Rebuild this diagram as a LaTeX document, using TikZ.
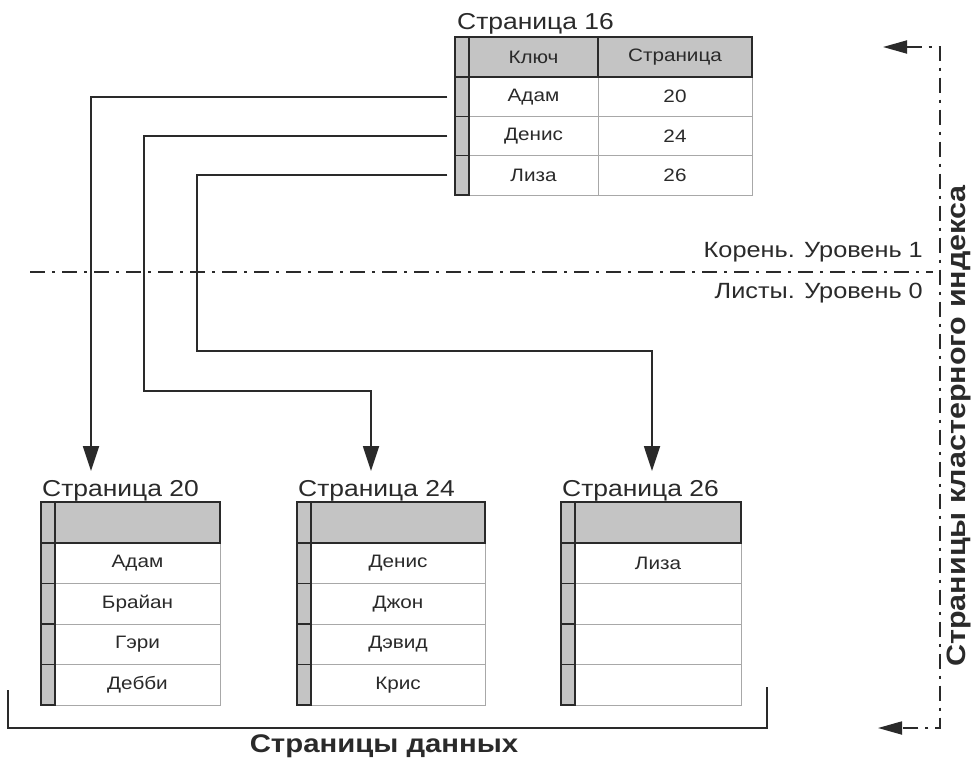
\documentclass[tikz,border=0pt]{standalone}
\usepackage{fontspec}
\setmainfont{Liberation Sans}[FakeStretch=1.15]
\usetikzlibrary{arrows.meta}

\definecolor{cellgray}{HTML}{C4C4C4}
\definecolor{ink}{HTML}{2A2A2A}
\definecolor{rulegray}{HTML}{A8A8A8}

\tikzset{
  stripcell/.style={draw=ink, fill=cellgray, line width=1.3pt, inner sep=0pt,
    minimum width=14pt},
  headcell/.style={draw=ink, fill=cellgray, line width=1.6pt, inner sep=0pt},
  bodycell/.style={draw=rulegray, fill=white, line width=0.8pt, inner sep=0pt,
    text=ink, font=\fontsize{18}{20}\selectfont},
  pagetitle/.style={anchor=base west, inner sep=0pt, text=ink,
    font=\fontsize{23}{26}\selectfont},
  levellabel/.style={anchor=base east, inner sep=0pt, text=ink,
    font=\fontsize{22}{24}\selectfont},
  boldlabel/.style={inner sep=0pt, text=ink, font=\bfseries\fontsize{25.5}{28}\selectfont},
  link/.style={draw=ink, line width=1.8pt,
    -{Triangle[length=25pt,width=16pt]}},
  dashdot/.style={draw=ink, line width=1.8pt,
    dash pattern=on 15pt off 7pt on 3pt off 7pt},
  bracketline/.style={draw=ink, line width=1.6pt},
}

\begin{document}
\begin{tikzpicture}[x=1pt, y=-1pt]
  \path[fill=white, use as bounding box] (0,0) rectangle (979,760);

  % ---- root index page 16 ----
  \node[pagetitle] (t16-title) at (457,30) {Страница 16};
  \foreach \nm/\pg [count=\i] in {Адам/20, Денис/24, Лиза/26} {
    \pgfmathsetmacro{\yc}{77 + 39.3*(\i-0.5)}
    \node[bodycell, minimum width=129pt, minimum height=39.3pt]
      (t16-k\i) at (533.5,\yc) {\nm};
    \node[bodycell, minimum width=154pt, minimum height=39.3pt]
      (t16-p\i) at (675,\yc) {\pg};
  }
  \node[headcell, minimum width=129pt, minimum height=40pt, text=ink,
        font=\fontsize{18}{20}\selectfont] (t16-h1) at (533.5,57) {Ключ};
  \node[headcell, minimum width=154pt, minimum height=40pt, text=ink,
        font=\fontsize{18}{20}\selectfont] (t16-h2) at (675,57) {Страница};
  \node[stripcell, minimum height=40pt] (t16-s0) at (462,57) {};
  \foreach \i in {1,2,3} {
    \pgfmathsetmacro{\yc}{77 + 39.3*(\i-0.5)}
    \node[stripcell, minimum height=39.3pt] (t16-s\i) at (462,\yc) {};
  }

  % ---- leaf data pages ----
  \foreach \tn/\xl/\xb/\xr/\ttl/\names in {
      p20/41/55/220/{Страница 20}/{Адам,Брайан,Гэри,Дебби},
      p24/297/311/485/{Страница 24}/{Денис,Джон,Дэвид,Крис},
      p26/561/575/741/{Страница 26}/{Лиза,{},{},{}}} {
    \pgfmathsetmacro{\xs}{(\xl+\xb)/2}
    \pgfmathsetmacro{\xc}{(\xb+\xr)/2}
    \pgfmathsetmacro{\wb}{\xr-\xb}
    \node[pagetitle] (\tn-title) at (\xl+1,496) {\ttl};
    \foreach \nm [count=\i] in \names {
      \pgfmathsetmacro{\yc}{543 + 40.5*(\i-0.5)}
      \node[bodycell, minimum width=\wb pt, minimum height=40.5pt]
        (\tn-r\i) at (\xc,\yc) {\nm};
    }
    \node[headcell, minimum width=\wb pt, minimum height=41pt]
      (\tn-h) at (\xc,522.5) {};
    \node[stripcell, minimum height=41pt] (\tn-s0) at (\xs,522.5) {};
    \foreach \i in {1,2,3,4} {
      \pgfmathsetmacro{\yc}{543 + 40.5*(\i-0.5)}
      \node[stripcell, minimum height=40.5pt] (\tn-s\i) at (\xs,\yc) {};
    }
  }

  % ---- pointers from the root keys down to the data pages ----
  \coordinate (in20) at (91,471);
  \coordinate (bend24) at (144,391);
  \coordinate (in24) at (371,471);
  \coordinate (bend26) at (197,351);
  \coordinate (in26) at (652,471);
  \draw[link, shorten <=7pt] (t16-s1.west) -| (in20);
  \draw[link, shorten <=7pt] (t16-s2.west) -| (bend24) -| (in24);
  \draw[link, shorten <=7pt] (t16-s3.west) -| (bend26) -| (in26);

  % ---- level separator ----
  \coordinate (lvl-l) at (30,272);
  \coordinate (lvl-r) at (933,272);
  \draw[dashdot] (lvl-l) -- (lvl-r);
  \node[levellabel] (root-lbl) at (923,257) {Корень. Уровень 1};
  \node[levellabel] (leaf-lbl) at (923,298) {Листы. Уровень 0};

  % ---- span of the clustered index pages ----
  \coordinate (idx-top) at (883,47);
  \coordinate (idx-corner) at (940,728);
  \coordinate (idx-bot) at (878,728);
  \draw[dashdot, {Triangle[length=24pt,width=13pt]}-{Triangle[length=24pt,width=13pt]}]
    (idx-top) -| (idx-corner) -- (idx-bot);
  \node[boldlabel, rotate=90, font=\bfseries\fontsize{26.5}{28}\selectfont]
    (idx-lbl) at (959,426) {Страницы кластерного индекса};

  % ---- bracket under the data pages ----
  \coordinate (br-l) at (8,690);
  \coordinate (br-bot) at (767,728);
  \coordinate (br-r) at (767,687);
  \draw[bracketline] (br-l) |- (br-bot) -- (br-r);
  \node[boldlabel, anchor=base] (data-lbl) at (384,752) {Страницы данных};
\end{tikzpicture}
\end{document}
